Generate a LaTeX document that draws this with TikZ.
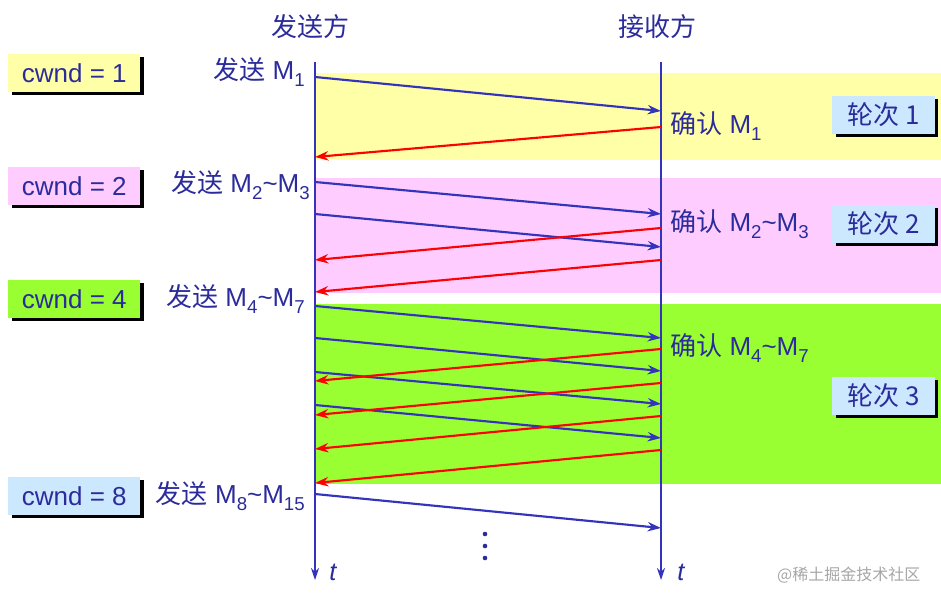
\documentclass[tikz,border=0pt]{standalone}
\usepackage{fontspec}
\setmainfont{Liberation Sans}
\newfontfamily\cjk{Noto Sans CJK SC}
\usetikzlibrary{arrows.meta,shadows}
\definecolor{txt}{HTML}{2B2B9B}
\definecolor{ybg}{HTML}{FFFFA8}
\definecolor{pbg}{HTML}{FFCCFF}
\definecolor{gbg}{HTML}{99FF33}
\definecolor{bbg}{HTML}{CCE8FF}
\definecolor{sendc}{HTML}{3333BB}
\newcommand{\subx}[1]{\raisebox{-0.5ex}{\fontsize{14}{14}\selectfont #1}}
\newcommand{\tilx}{{\char"007E}}
\tikzset{
  lbl/.style={text=txt,font=\fontsize{19.5}{22}\selectfont,inner sep=0pt},
  box/.style={lbl,minimum height=28.5pt,inner sep=4pt,anchor=west,
    drop shadow={shadow xshift=2.5pt,shadow yshift=-2.5pt,fill=black,opacity=1}},
  snd/.style={draw=sendc,line width=1.6pt,-{Stealth[length=10pt,width=7pt]}},
  ack/.style={draw=red,line width=1.6pt,-{Stealth[length=10pt,width=7pt]}},
}
\begin{document}
\begin{tikzpicture}[x=0.75pt,y=-0.75pt]
\useasboundingbox (0,0) rectangle (941,603);
\fill[ybg] (315,73) rectangle (941,160);
\fill[pbg] (315,178) rectangle (941,293);
\fill[gbg] (315,304) rectangle (941,484);
% boxes
\node[box,fill=ybg,minimum width=99pt] (c1) at (8,73) {cwnd = 1};
\node[box,fill=pbg,minimum width=99pt] (c2) at (8,186) {cwnd = 2};
\node[box,fill=gbg,minimum width=99pt] (c4) at (8,299) {cwnd = 4};
\node[box,fill=bbg,minimum width=99pt] (c8) at (8,496) {cwnd = 8};
\node[box,fill=bbg,minimum width=77pt] (rd1) at (832,115) {\cjk 轮次 1};
\node[box,fill=bbg,minimum width=77pt] (rd2) at (832,224) {\cjk 轮次 2};
\node[box,fill=bbg,minimum width=77pt] (rd3) at (832,396) {\cjk 轮次 3};
% axes
\coordinate (s0) at (315,62); \coordinate (s1) at (315,580);
\coordinate (r0) at (661,62); \coordinate (r1) at (661,580);
\draw[sendc,line width=0.9pt,-{Stealth[length=9pt,width=6pt]}] (s0) -- (s1);
\draw[sendc,line width=0.9pt,-{Stealth[length=9pt,width=6pt]}] (r0) -- (r1);
\node[lbl] (hs) at (310,27) {\cjk 发送方};
\node[lbl] (hr) at (657,27) {\cjk 接收方};
\node[lbl,font=\fontsize{19}{22}\selectfont\itshape] (t1) at (333,572) {t};
\node[lbl,font=\fontsize{19}{22}\selectfont\itshape] (t2) at (681,572) {t};
\foreach \y in {534,546,558} \fill[txt] (485,\y) circle (2.3);
% labels
\node[lbl,anchor=east] (L1) at (305,72) {{\cjk 发送} M\subx{1}};
\node[lbl,anchor=east] (L2) at (310,185) {{\cjk 发送} M\subx{2}\tilx M\subx{3}};
\node[lbl,anchor=east] (L4) at (305,299) {{\cjk 发送} M\subx{4}\tilx M\subx{7}};
\node[lbl,anchor=east] (L8) at (305,496) {{\cjk 发送} M\subx{8}\tilx M\subx{15}};
\node[lbl,anchor=west] (A1) at (670,126) {{\cjk 确认} M\subx{1}};
\node[lbl,anchor=west] (A2) at (670,224) {{\cjk 确认} M\subx{2}\tilx M\subx{3}};
\node[lbl,anchor=west] (A4) at (670,348) {{\cjk 确认} M\subx{4}\tilx M\subx{7}};
% arrows
\foreach \a/\b in {77/111,182/214,214/247,306/338,338/371,372/404,405/438,494/528}
  \draw[snd] (315,\a) -- (661,\b);
\foreach \a/\b in {127/157,228/260,260/292,349/381,383/415,416/449,450/483}
  \draw[ack] (661,\a) -- (315,\b);
\node[text=gray!70,font=\cjk\fontsize{12}{12}\selectfont,anchor=east] (wm) at (925,575) {@稀土掘金技术社区};
\end{tikzpicture}
\end{document}
